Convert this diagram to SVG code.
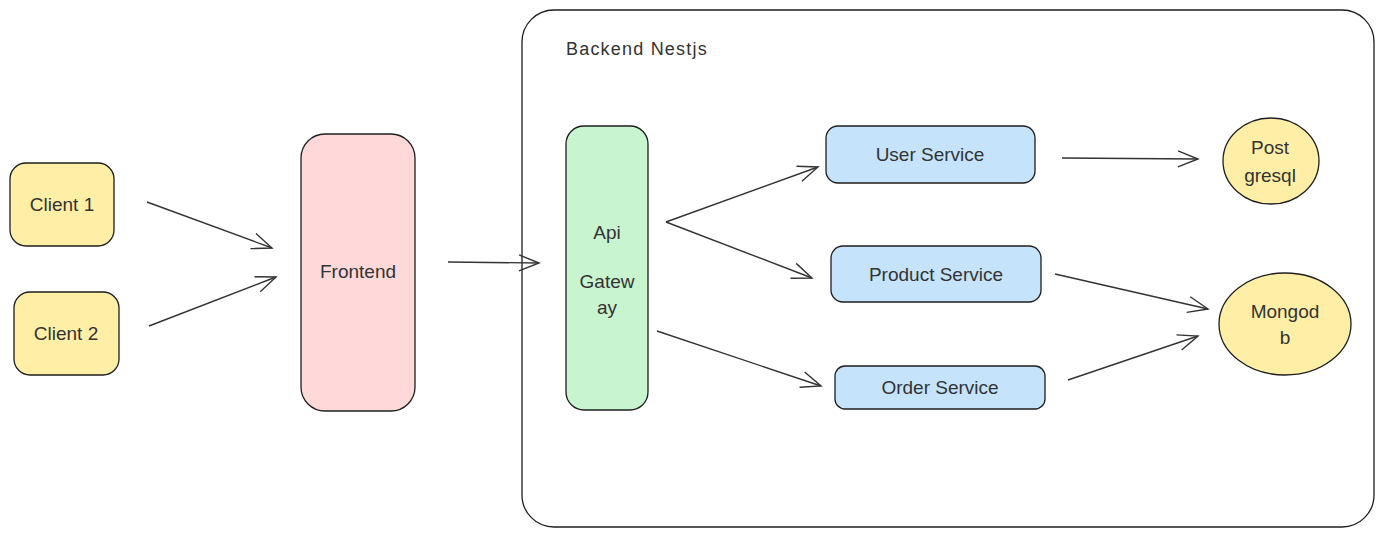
<svg xmlns="http://www.w3.org/2000/svg" width="1384" height="537" viewBox="0 0 1384 537">
<defs>
<style>
.n{stroke:#1e1e1e;stroke-width:1.3}
.t{font-family:"Liberation Sans","DejaVu Sans",sans-serif;font-size:19px;fill:#333333;text-anchor:middle;dominant-baseline:central}
.c{fill:none;stroke:#333;stroke-width:1.4}
</style>
<marker id="ah" markerUnits="userSpaceOnUse" markerWidth="24" markerHeight="20" refX="21" refY="9" orient="auto">
<path d="M1,1 L21,9 L1,17" fill="none" stroke="#333" stroke-width="1.4"/>
</marker>
</defs>
<rect width="1384" height="537" fill="#ffffff"/>
<g id="backend">
<rect x="522" y="10" width="852" height="517" rx="32" fill="none" stroke="#1e1e1e" stroke-width="1.3"/>
<text x="566" y="49" class="t" style="font-size:18px;text-anchor:start;letter-spacing:1.2px">Backend Nestjs</text>
</g>
<g id="client1">
<rect class="n" x="10" y="163" width="104" height="83" rx="16" fill="#ffefa6"/>
<text class="t" x="62" y="204">Client 1</text>
</g>
<g id="client2">
<rect class="n" x="14" y="292" width="105" height="83" rx="16" fill="#ffefa6"/>
<text class="t" x="66" y="333">Client 2</text>
</g>
<g id="frontend">
<rect class="n" x="301" y="134" width="114" height="277" rx="24" fill="#ffd9d9"/>
<text class="t" x="358" y="271">Frontend</text>
</g>
<g id="gateway">
<rect class="n" x="566" y="126" width="82" height="284" rx="18" fill="#c9f4d0"/>
<text class="t" x="607" y="232">Api</text>
<text class="t" x="607" y="281">Gatew</text>
<text class="t" x="607" y="307">ay</text>
</g>
<g id="user">
<rect class="n" x="826" y="126" width="209" height="57" rx="12" fill="#c5e4fc"/>
<text class="t" x="930" y="154">User Service</text>
</g>
<g id="product">
<rect class="n" x="831" y="246" width="210" height="56" rx="12" fill="#c5e4fc"/>
<text class="t" x="936" y="274">Product Service</text>
</g>
<g id="order">
<rect class="n" x="835" y="366" width="210" height="43" rx="10" fill="#c5e4fc"/>
<text class="t" x="940" y="387">Order Service</text>
</g>
<g id="postgres">
<ellipse class="n" cx="1271" cy="161" rx="48" ry="43" fill="#ffefa6"/>
<text class="t" x="1270" y="147">Post</text>
<text class="t" x="1270" y="175">gresql</text>
</g>
<g id="mongodb">
<ellipse class="n" cx="1285" cy="324" rx="66" ry="51" fill="#ffefa6"/>
<text class="t" x="1285" y="311">Mongod</text>
<text class="t" x="1285" y="337">b</text>
</g>
<g id="connectors">
<line class="c" x1="147" y1="202" x2="272" y2="248" marker-end="url(#ah)"/>
<line class="c" x1="149" y1="326" x2="276" y2="277" marker-end="url(#ah)"/>
<line class="c" x1="448" y1="262" x2="539" y2="263" marker-end="url(#ah)"/>
<line class="c" x1="666" y1="222" x2="818" y2="167" marker-end="url(#ah)"/>
<line class="c" x1="666" y1="222" x2="812" y2="278" marker-end="url(#ah)"/>
<line class="c" x1="657" y1="331" x2="821" y2="386" marker-end="url(#ah)"/>
<line class="c" x1="1062" y1="158" x2="1198" y2="159" marker-end="url(#ah)"/>
<line class="c" x1="1055" y1="274" x2="1208" y2="309" marker-end="url(#ah)"/>
<line class="c" x1="1068" y1="380" x2="1198" y2="336" marker-end="url(#ah)"/>
</g>
</svg>
